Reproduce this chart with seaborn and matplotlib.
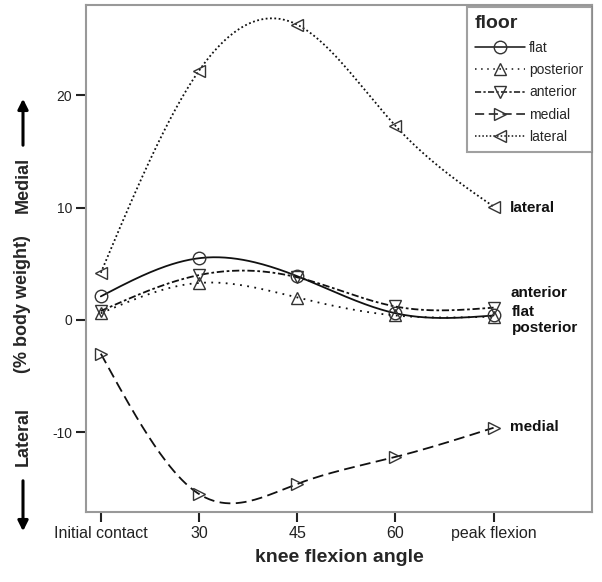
import numpy as np
import pandas as pd
import matplotlib
matplotlib.use('Agg')
import matplotlib.pyplot as plt
from matplotlib.lines import Line2D
import seaborn as sns

# Data
angles = ['Initial contact', '30', '45', '60', 'peak flexion']
floors = ['flat', 'posterior', 'anterior', 'medial', 'lateral']
flat = [2.1, 5.5, 3.9, 0.6, 0.4]
posterior = [0.6, 3.3, 2.0, 0.4, 0.3]
anterior = [0.8, 4.0, 3.8, 1.2, 1.1]
medial = [-3.0, -15.5, -14.6, -12.2, -9.6]
lateral = [4.2, 22.2, 26.3, 17.3, 10.1]

values = {'flat': flat, 'posterior': posterior, 'anterior': anterior,
          'medial': medial, 'lateral': lateral}
markers = {'flat': 'o', 'posterior': '^', 'anterior': 'v',
           'medial': '>', 'lateral': '<'}
styles = {'flat': '-', 'posterior': (0, (1, 3)), 'anterior': (0, (4, 1.5, 1.5, 1.5)),
          'medial': (0, (6, 3)), 'lateral': (0, (1, 1.4))}


def natural_spline(x, y, n=200):
    # natural cubic spline through the points
    x = np.asarray(x, float)
    y = np.asarray(y, float)
    k = len(x)
    h = np.diff(x)
    A = np.zeros((k, k))
    b = np.zeros(k)
    A[0, 0] = A[-1, -1] = 1
    for i in range(1, k - 1):
        A[i, i - 1] = h[i - 1]
        A[i, i] = 2 * (h[i - 1] + h[i])
        A[i, i + 1] = h[i]
        b[i] = 3 * ((y[i + 1] - y[i]) / h[i] - (y[i] - y[i - 1]) / h[i - 1])
    c = np.linalg.solve(A, b)
    xs = np.linspace(x[0], x[-1], n)
    idx = np.clip(np.searchsorted(x, xs) - 1, 0, k - 2)
    dx = xs - x[idx]
    bb = (y[idx + 1] - y[idx]) / h[idx] - h[idx] * (2 * c[idx] + c[idx + 1]) / 3
    d = (c[idx + 1] - c[idx]) / (3 * h[idx])
    ys = y[idx] + bb * dx + c[idx] * dx ** 2 + d * dx ** 3
    return xs, ys


sns.set_theme(style='white')
plt.rcParams['font.family'] = ['Liberation Sans', 'DejaVu Sans']
plt.rcParams['axes.unicode_minus'] = False

fig = plt.figure(figsize=(6.02, 5.82), dpi=100)
ax = fig.add_axes([0.143, 0.1203, 0.840, 0.8711])

xpos = np.arange(len(angles))
line_col = '#111111'
mk_col = '#333333'
for f in floors:
    xs, ys = natural_spline(xpos, values[f])
    sns.lineplot(x=xs, y=ys, ax=ax, color=line_col, linewidth=1.3,
                 linestyle=styles[f], sort=False)
    sns.lineplot(x=xpos, y=values[f], ax=ax, linestyle='none', marker=markers[f],
                 markersize=9, markerfacecolor='none', markeredgecolor=mk_col,
                 markeredgewidth=1.0, color=mk_col)

ax.set_xlim(-0.15, 5.0)
ax.set_ylim(-17.1, 28.05)
ax.set_xticks(xpos)
ax.set_xticklabels(angles)
ax.set_yticks([-10, 0, 10, 20])
ax.tick_params(axis='x', labelsize=11.5, colors='#222222', length=7, width=1.5,
               direction='out', bottom=True, pad=3)
ax.tick_params(axis='y', labelsize=10, colors='#222222', length=7, width=1.5,
               direction='out', left=True, pad=3)
for s in ax.spines.values():
    s.set_color('#999999')
    s.set_linewidth(1.5)

ax.set_xlabel('knee flexion angle', fontsize=14, fontweight='bold', labelpad=6)
ax.set_ylabel('')

# end labels on the right
end_labels = [('lateral', 4.17, 10.0), ('medial', 4.17, -9.5),
              ('anterior', 4.17, 2.4), ('flat', 4.19, 0.75), ('posterior', 4.19, -0.75)]
for txt, tx, ty in end_labels:
    ax.text(tx, ty, txt, fontsize=11, fontweight='bold', va='center', ha='left',
            color='#111111')

# y axis label with arrows
fig.text(23 / 602, 1 - 185 / 582, 'Medial', rotation=90, fontsize=13,
         fontweight='bold', ha='center', va='center')
fig.text(23 / 602, 1 - 304 / 582, '(% body weight)', rotation=90, fontsize=13,
         fontweight='bold', ha='center', va='center')
fig.text(23 / 602, 1 - 437 / 582, 'Lateral', rotation=90, fontsize=13,
         fontweight='bold', ha='center', va='center')
fig.patches.append(matplotlib.patches.FancyArrowPatch(
    (23 / 602, 1 - 148 / 582), (23 / 602, 1 - 96 / 582), transform=fig.transFigure,
    arrowstyle='-|>,head_length=6,head_width=3', color='black', linewidth=2.2))
fig.patches.append(matplotlib.patches.FancyArrowPatch(
    (23 / 602, 1 - 478 / 582), (23 / 602, 1 - 534 / 582), transform=fig.transFigure,
    arrowstyle='-|>,head_length=6,head_width=3', color='black', linewidth=2.2))

handles = [Line2D([], [], color=line_col, linestyle=styles[f], linewidth=1.1,
                  marker=markers[f], markersize=9, markerfacecolor='none',
                  markeredgecolor=mk_col) for f in floors]
leg = ax.legend(handles, floors, title='floor', loc='upper right',
                bbox_to_anchor=(1.0, 0.996), borderaxespad=0, fontsize=10,
                title_fontsize=14, handlelength=3.6, labelspacing=0.6,
                frameon=True, fancybox=False, alignment='left', handletextpad=0.3,
                borderpad=0.6)
leg.get_title().set_fontweight('bold')
leg.get_frame().set_edgecolor('#888888')
leg.get_frame().set_linewidth(1.5)

fig.savefig('out.png', dpi=100)
